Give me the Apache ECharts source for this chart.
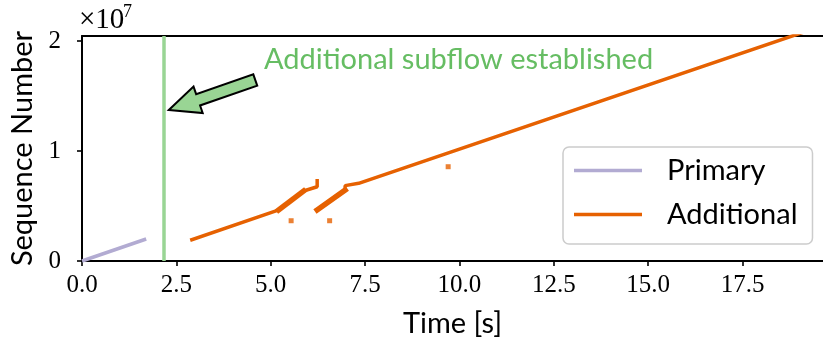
<!DOCTYPE html>
<html>
<head>
<meta charset="utf-8">
<script src="https://cdn.jsdelivr.net/npm/echarts@6/dist/echarts.min.js"></script>
<style>
  html, body { margin: 0; padding: 0; background: #fff; }
  #chart { width: 823px; height: 350px; }
</style>
</head>
<body>
<div id="chart"></div>
<script>
// Sequence numbers are in units of 1e7.
const primaryTime = [0.0, 1.70];
const primarySeq = [0.0, 0.20];

// Additional subflow: initial ramp, two retransmission bursts, then steady transfer
const addRampTime = [2.91, 5.21];
const addRampSeq = [0.194, 0.464];
const addBurst1Time = [5.21, 5.87];
const addBurst1Seq = [0.464, 0.636];
const addTail1Time = [5.87, 6.23, 6.23];
const addTail1Seq = [0.636, 0.675, 0.73];
const addBurst2Time = [6.23, 6.97];
const addBurst2Seq = [0.464, 0.645];
const addSteadyTime = [6.97, 6.97, 7.33, 19.63];
const addSteadySeq = [0.645, 0.685, 0.706, 2.14];
const addStrayTime = [5.54, 6.56, 9.70];
const addStraySeq = [0.366, 0.366, 0.857];

const subflowTime = 2.17;

const xTicks = [0, 2.5, 5, 7.5, 10, 12.5, 15, 17.5];
const yTicks = [0, 1, 2];

const annoText = 'Additional subflow established';
const arrowTip = [2.30, 1.373];
const arrowTail = [4.59, 1.645];
const annoTextPos = [4.82, 1.83];

const zip = (a, b) => a.map((v, i) => [v, b[i]]);

const PRIMARY = '#b2abd2';
const ADDITIONAL = '#e66101';
const GREEN = '#99d594';
const GREEN_TEXT = '#66bd63';
const SANS = 'Lato';
const SERIF = 'Liberation Serif';
const SANS_SIZE = 29;

const chart = echarts.init(document.getElementById('chart'), null, { renderer: 'canvas' });

function addLine(t, s, width) {
  return {
    name: 'Additional', type: 'line', data: zip(t, s), symbol: 'none',
    lineStyle: { color: ADDITIONAL, width: width, cap: 'square' },
    itemStyle: { color: ADDITIONAL }, animation: false, clip: true
  };
}

const axisLineStyle = { color: '#000', width: 2 };

chart.setOption({
  animation: false,
  grid: { left: 79, right: 0, top: 36, bottom: 89 },
  xAxis: [{
    type: 'value', min: 0, max: 19.63,
    name: 'Time [s]', nameLocation: 'middle', nameGap: 48,
    nameTextStyle: { fontFamily: SANS, fontSize: SANS_SIZE, color: '#000' },
    axisLine: { show: true, lineStyle: axisLineStyle },
    axisTick: { show: true, length: 5, inside: false, customValues: xTicks, lineStyle: { color: '#000', width: 1.6 } },
    axisLabel: { customValues: xTicks, margin: 12, fontFamily: SERIF, fontSize: 25, color: '#000',
      formatter: v => v.toFixed(1) },
    splitLine: { show: false }
  }, {
    type: 'value', position: 'top', min: 0, max: 19.63,
    axisLine: { show: true, lineStyle: axisLineStyle },
    axisTick: { show: false }, axisLabel: { show: false }, splitLine: { show: false }
  }],
  yAxis: {
    type: 'value', min: 0, max: 2.045,
    name: 'Sequence Number', nameLocation: 'middle', nameGap: 45, nameRotate: 90,
    nameTextStyle: { fontFamily: SANS, fontSize: SANS_SIZE, color: '#000' },
    axisLine: { show: true, onZero: false, lineStyle: axisLineStyle },
    axisTick: { show: true, length: 5, customValues: yTicks, lineStyle: { color: '#000', width: 1.6 } },
    axisLabel: { customValues: yTicks, margin: 21, fontFamily: SERIF, fontSize: 25, color: '#000',
      formatter: v => String(Math.round(v)) },
    splitLine: { show: false }
  },
  legend: {
    orient: 'vertical', left: 563, top: 147,
    padding: [9, 15, 15, 11],
    icon: 'rect', itemWidth: 68, itemHeight: 3.5, itemGap: 15,
    data: ['Primary', 'Additional'],
    backgroundColor: '#fff',
    borderColor: '#cccccc', borderWidth: 1.5, borderRadius: 6,
    textStyle: { fontFamily: SANS, fontSize: SANS_SIZE, color: '#000', padding: [0, 0, 0, 20] }
  },
  series: [
    {
      name: 'Primary', type: 'line', data: zip(primaryTime, primarySeq), symbol: 'none',
      lineStyle: { color: PRIMARY, width: 3.5 }, itemStyle: { color: PRIMARY },
      markLine: {
        silent: true, symbol: 'none', label: { show: false },
        lineStyle: { color: GREEN, width: 3.5, type: 'solid' },
        data: [{ xAxis: subflowTime }]
      }
    },
    addLine(addRampTime, addRampSeq, 3.5),
    addLine(addBurst1Time, addBurst1Seq, 5.5),
    addLine(addTail1Time, addTail1Seq, 3.5),
    addLine(addBurst2Time, addBurst2Seq, 5.5),
    addLine(addSteadyTime, addSteadySeq, 3.5),
    {
      name: 'Additional', type: 'scatter', data: zip(addStrayTime, addStraySeq),
      symbol: 'rect', symbolSize: 5, itemStyle: { color: ADDITIONAL }
    }
  ]
});

// Annotation: arrow and label anchored in data coordinates, plus the axis scale factor
function drawAnnotation() {
  const tip = chart.convertToPixel({ gridIndex: 0 }, arrowTip);
  const tail = chart.convertToPixel({ gridIndex: 0 }, arrowTail);
  const txt = chart.convertToPixel({ gridIndex: 0 }, annoTextPos);
  const dx = tail[0] - tip[0], dy = tail[1] - tip[1];
  const len = Math.hypot(dx, dy);
  const ux = dx / len, uy = dy / len;
  const px = -uy, py = ux;
  const headLen = 31, headHalf = 14, shaftHalf = 6;
  const bx = tip[0] + ux * headLen, by = tip[1] + uy * headLen;
  const pts = [
    tip,
    [bx + px * headHalf, by + py * headHalf],
    [bx + px * shaftHalf, by + py * shaftHalf],
    [tail[0] + px * shaftHalf, tail[1] + py * shaftHalf],
    [tail[0] - px * shaftHalf, tail[1] - py * shaftHalf],
    [bx - px * shaftHalf, by - py * shaftHalf],
    [bx - px * headHalf, by - py * headHalf]
  ];
  const origin = chart.convertToPixel({ gridIndex: 0 }, [0, 2.045]);
  chart.setOption({
    graphic: [
      {
        type: 'polygon', shape: { points: pts }, z: 100,
        style: { fill: GREEN, stroke: '#000', lineWidth: 2, lineJoin: 'miter' }
      },
      {
        type: 'text', x: txt[0], y: txt[1], z: 100,
        style: { text: annoText, fill: GREEN_TEXT, font: SANS_SIZE + 'px ' + SANS, textVerticalAlign: 'middle' }
      },
      {
        type: 'text', x: origin[0] - 3, y: origin[1] - 1, z: 100,
        style: { text: '×10', fill: '#000', fontFamily: SERIF, fontSize: 29, textVerticalAlign: 'bottom' }
      },
      {
        type: 'text', x: origin[0] + 41, y: origin[1] - 33, z: 100,
        style: { text: '7', fill: '#000', fontFamily: SERIF, fontSize: 18, textVerticalAlign: 'top' }
      }
    ]
  });
}
drawAnnotation();
</script>
</body>
</html>
